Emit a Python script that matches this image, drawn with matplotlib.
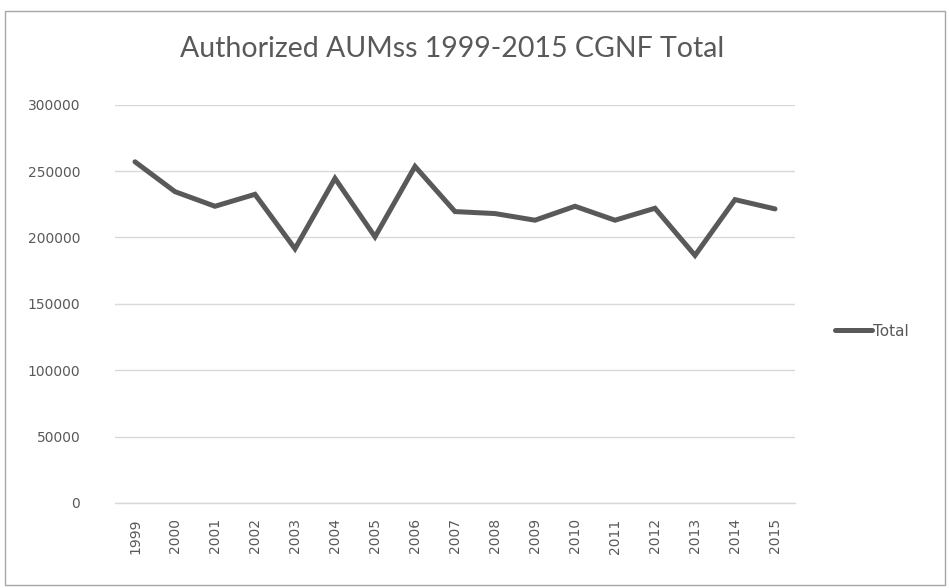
import matplotlib
matplotlib.use("Agg")
import matplotlib.pyplot as plt
from matplotlib.patches import Rectangle

years = [str(y) for y in range(1999, 2016)]
totals = [257000, 234500, 223500, 232500, 191500, 244500, 200500, 253500,
          219500, 218000, 213000, 223500, 213000, 222000, 186500, 228500, 221500]
y_ticks = [0, 50000, 100000, 150000, 200000, 250000, 300000]

fig = plt.figure(figsize=(9.49, 5.88), dpi=100)
fig.patch.set_facecolor("white")

# chart frame
fig.add_artist(Rectangle((5 / 949, 3 / 588), 940 / 949, 574 / 588, transform=fig.transFigure,
                         fill=False, edgecolor="#a6a6a6", linewidth=1.0))

ax = fig.add_axes([115 / 949, 1 - 503 / 588, 680 / 949, (503 - 104.7) / 588])
x = list(range(len(years)))
line, = ax.plot(x, totals, color="#595959", linewidth=3.6, solid_joinstyle="miter",
                solid_capstyle="round", label="Total")

ax.set_xlim(-0.5, len(years) - 0.5)
ax.set_ylim(0, 300000)
ax.set_yticks(y_ticks)
ax.set_yticklabels([str(v) for v in y_ticks])
ax.set_xticks(x)
ax.set_xticklabels(years, rotation=90)

ax.grid(axis="y", color="#d9d9d9", linewidth=1.0)
ax.set_axisbelow(True)
for side in ["top", "right", "left"]:
    ax.spines[side].set_visible(False)
ax.spines["bottom"].set_color("#d9d9d9")
ax.spines["bottom"].set_linewidth(1.0)
ax.tick_params(axis="both", length=0, colors="#595959", labelsize=10)
ax.tick_params(axis="y", pad=25)
ax.tick_params(axis="x", pad=11)

fig.text(452 / 949, 1 - 49 / 588, "Authorized AUMss 1999-2015 CGNF Total",
         ha="center", va="center", fontsize=20.5, color="#595959", family="Lato")

leg = fig.legend(handles=[line], loc="center left", bbox_to_anchor=(829 / 949, 1 - 331 / 588),
                 frameon=False, fontsize=11, handlelength=2.4, handletextpad=0.1,
                 labelcolor="#595959", borderaxespad=0)

fig.savefig("out.png", dpi=100)
